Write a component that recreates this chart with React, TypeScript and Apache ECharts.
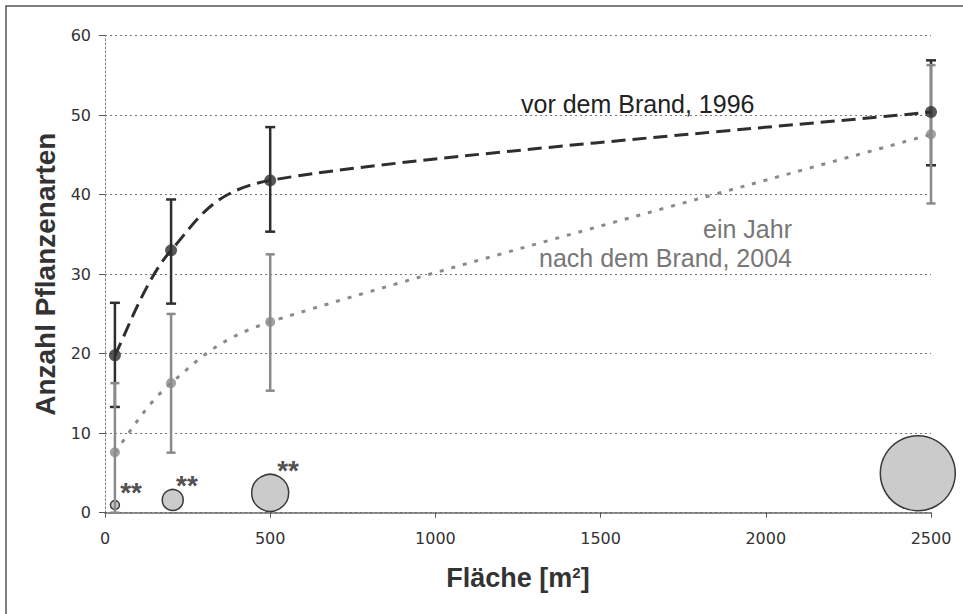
import React, { useEffect, useRef } from "react";
import * as echarts from "echarts";

// ---- data ----
const areas = [30, 200, 500, 2500];
const before1996 = [19.8, 33.0, 41.8, 50.4];
const before1996Low = [13.3, 26.3, 35.35, 43.7];
const before1996High = [26.4, 39.4, 48.5, 56.9];
const after2004 = [7.6, 16.3, 24.0, 47.6];
const after2004Low = [0, 7.55, 15.35, 38.9];
const after2004High = [16.3, 25.0, 32.5, 56.3];

const bubbleX = [30, 205, 500, 2460];
const bubbleY = [0.97, 1.6, 2.5, 4.96];
const bubbleSizes = [9, 21, 37, 75];

const starX = [79, 248, 554];
const starY = [2.5, 3.4, 5.3];
const starLabel = "**";

const yTicks = [0, 10, 20, 30, 40, 50, 60];
const xTicks = [0, 500, 1000, 1500, 2000, 2500];

const label1996 = "vor dem Brand, 1996";
const label2004a = "ein Jahr";
const label2004b = "nach dem Brand, 2004";

const DARK = "#2e2e2e";
const GRAY = "#8a8a8a";

// Excel-like smoothed curve through the given pixel points (Catmull-Rom with limited handles)
function smoothPath(pts: number[][]): string {
  const n = pts.length;
  let d = `M${pts[0][0]},${pts[0][1]}`;
  const handle = (a: number[], b: number[], lim: number) => {
    let vx = (b[0] - a[0]) / 6;
    let vy = (b[1] - a[1]) / 6;
    const l = Math.hypot(vx, vy);
    if (l > lim && l > 0) {
      vx *= lim / l;
      vy *= lim / l;
    }
    return [vx, vy];
  };
  for (let i = 0; i < n - 1; i++) {
    const p0 = pts[Math.max(i - 1, 0)];
    const p1 = pts[i];
    const p2 = pts[i + 1];
    const p3 = pts[Math.min(i + 2, n - 1)];
    const lim = Math.hypot(p2[0] - p1[0], p2[1] - p1[1]) * 0.5;
    const v1 = handle(p0, p2, lim);
    const v2 = handle(p1, p3, lim);
    d += ` C${p1[0] + v1[0]},${p1[1] + v1[1]} ${p2[0] - v2[0]},${p2[1] - v2[1]} ${p2[0]},${p2[1]}`;
  }
  return d;
}

function curveSeries(values: number[], color: string, dash: number[], z: number) {
  return {
    type: "custom",
    z,
    data: areas.map((a, i) => [a, values[i]]),
    encode: { x: 0, y: 1 },
    renderItem: (params: any, api: any) => {
      if (params.dataIndex !== 0) return null;
      const pts = areas.map((a, i) => api.coord([a, values[i]]));
      return {
        type: "path",
        shape: { pathData: smoothPath(pts) },
        style: { stroke: color, lineWidth: 3, lineDash: dash, fill: "none", lineCap: "butt" },
      };
    },
    silent: true,
  };
}

function errorBarSeries(lows: number[], highs: number[], color: string, capHalf: number, z: number) {
  return {
    type: "custom",
    z,
    data: areas.map((a, i) => [a, lows[i], highs[i]]),
    encode: { x: 0, y: [1, 2] },
    renderItem: (params: any, api: any) => {
      const x = api.value(0);
      const lo = api.coord([x, api.value(1)]);
      const hi = api.coord([x, api.value(2)]);
      const style = { stroke: color, lineWidth: 2.5 };
      return {
        type: "group",
        children: [
          { type: "line", shape: { x1: lo[0], y1: lo[1], x2: hi[0], y2: hi[1] }, style },
          { type: "line", shape: { x1: lo[0] - capHalf, y1: lo[1], x2: lo[0] + capHalf, y2: lo[1] }, style },
          { type: "line", shape: { x1: hi[0] - capHalf, y1: hi[1], x2: hi[0] + capHalf, y2: hi[1] }, style },
        ],
      };
    },
    silent: true,
  };
}

export default function App() {
  const ref = useRef<HTMLDivElement>(null);
  useEffect(() => {
    if (!ref.current) return;
    const chart = echarts.init(ref.current, null, { renderer: "svg" });
    const tickFont = { fontFamily: "DejaVu Sans", fontSize: 16, color: "#333" };
    chart.setOption({
      animation: false,
      backgroundColor: "#fff",
      grid: { left: 105, right: 32, top: 35.7, bottom: 101.3 },
      xAxis: {
        type: "value",
        min: xTicks[0],
        max: xTicks[xTicks.length - 1],
        interval: xTicks[1] - xTicks[0],
        name: "Fläche [m{sup|2}]",
        nameLocation: "middle",
        nameGap: 52,
        nameTextStyle: {
          fontFamily: "Liberation Sans",
          fontWeight: "bold",
          fontSize: 27,
          color: "#333",
          rich: {
            sup: { fontFamily: "Liberation Sans", fontWeight: "bold", fontSize: 15, color: "#333", verticalAlign: "top", padding: [0, 0, 8, 0] },
          },
        },
        axisLine: { show: true, lineStyle: { color: "#666", width: 1.5, type: [2, 1] } },
        axisTick: { show: true, length: 5, lineStyle: { color: "#555", width: 1 } },
        axisLabel: { ...tickFont, margin: 18, formatter: (v: number) => String(v) },
        splitLine: { show: false },
      },
      yAxis: {
        type: "value",
        min: yTicks[0],
        max: yTicks[yTicks.length - 1],
        interval: yTicks[1] - yTicks[0],
        name: "Anzahl Pflanzenarten",
        nameLocation: "middle",
        nameGap: 46,
        nameTextStyle: { fontFamily: "Liberation Sans", fontWeight: "bold", fontSize: 28, color: "#333" },
        axisLine: { show: true, lineStyle: { color: "#888", width: 1, type: [2, 2] } },
        axisTick: { show: true, length: 6, lineStyle: { color: "#555", width: 1 } },
        axisLabel: { ...tickFont, margin: 14, formatter: (v: number) => String(v) },
        splitLine: { show: true, lineStyle: { color: "#777", width: 1, type: [2, 3] } },
      },
      graphic: [
        { type: "rect", shape: { x: 6, y: 6, width: 1200, height: 900 }, style: { fill: "none", stroke: "#555", lineWidth: 1.5 }, silent: true },
        {
          type: "text",
          x: 521,
          y: 104,
          style: { text: label1996, fontFamily: "Liberation Sans", fontSize: 25, fill: "#222", textAlign: "left", textVerticalAlign: "middle" },
        },
        {
          type: "text",
          x: 792,
          y: 229,
          style: { text: label2004a, fontFamily: "Liberation Sans", fontSize: 25, fill: "#777", textAlign: "right", textVerticalAlign: "middle" },
        },
        {
          type: "text",
          x: 792,
          y: 258,
          style: { text: label2004b, fontFamily: "Liberation Sans", fontSize: 25, fill: "#777", textAlign: "right", textVerticalAlign: "middle" },
        },
      ],
      series: [
        {
          type: "scatter",
          z: 1,
          data: bubbleX.map((x, i) => [x, bubbleY[i], bubbleSizes[i]]),
          symbolSize: (v: number[]) => v[2],
          itemStyle: { color: "#cbcbcb", borderColor: "#3a3a3a", borderWidth: 1.5, opacity: 1 },
          silent: true,
        },
        {
          type: "scatter",
          z: 1,
          data: starX.map((x, i) => [x, starY[i]]),
          symbolSize: 1,
          itemStyle: { color: "rgba(0,0,0,0)" },
          label: {
            show: true,
            position: "inside",
            formatter: starLabel,
            fontFamily: "Liberation Sans",
            fontWeight: "bold",
            fontSize: 28,
            color: "#222",
          },
          silent: true,
        },
        errorBarSeries(before1996Low, before1996High, DARK, 5, 2),
        errorBarSeries(after2004Low, after2004High, GRAY, 4.5, 2),
        curveSeries(after2004, GRAY, [4, 8], 3),
        curveSeries(before1996, DARK, [14, 7], 4),
        {
          type: "scatter",
          z: 5,
          data: areas.map((a, i) => [a, after2004[i]]),
          symbol: "circle",
          symbolSize: 10,
          itemStyle: { color: GRAY },
          silent: true,
        },
        {
          type: "scatter",
          z: 6,
          data: areas.map((a, i) => [a, before1996[i]]),
          symbol: "circle",
          symbolSize: 12,
          itemStyle: { color: DARK },
          silent: true,
        },
      ],
    });
    return () => chart.dispose();
  }, []);
  return <div ref={ref} style={{ position: "absolute", left: 0, top: 0, width: 963, height: 614 }} />;
}
